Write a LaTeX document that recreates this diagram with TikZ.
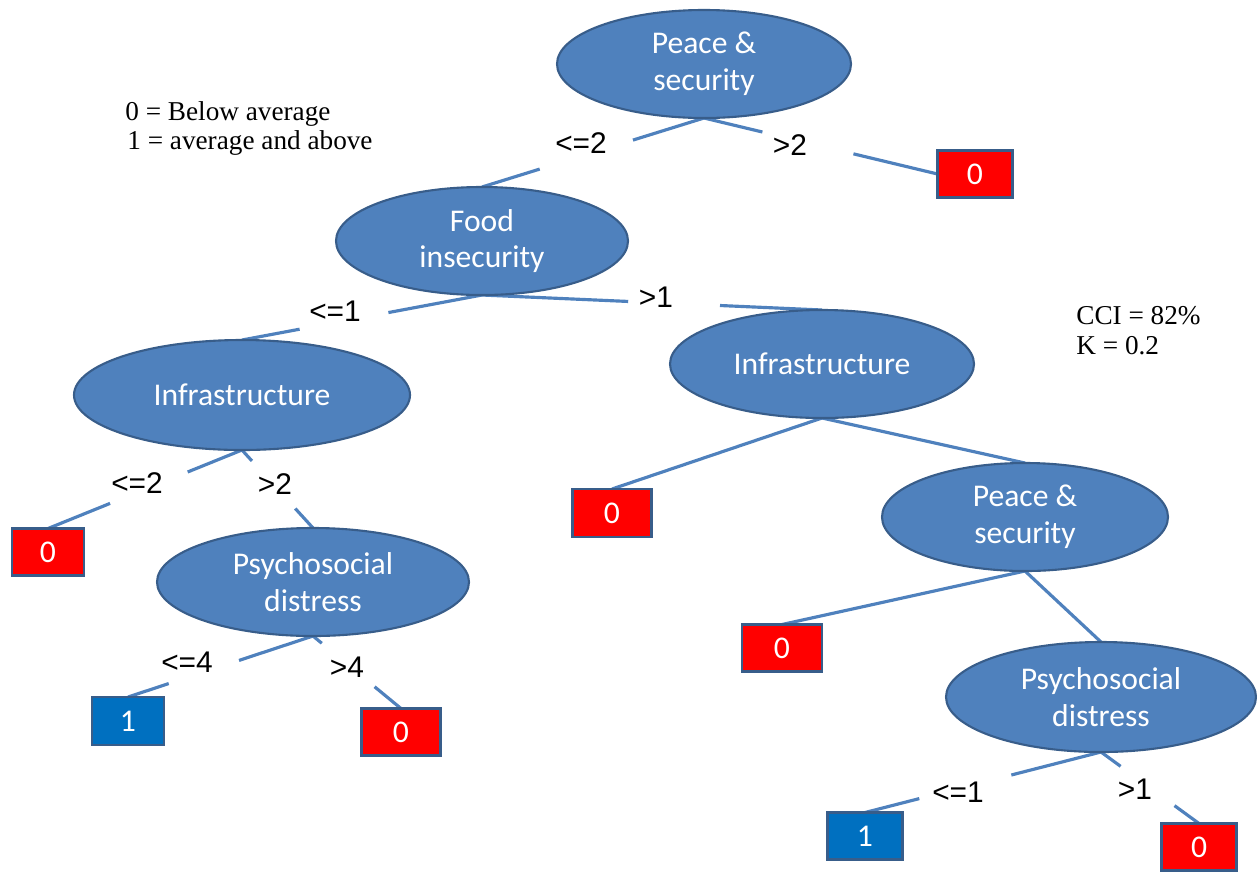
\documentclass[tikz,border=0pt]{standalone}
\usepackage{fontspec}
\setmainfont{Liberation Serif}
\newfontfamily\calibrifont{Carlito}
\newfontfamily\arialfont{Liberation Sans}
\usetikzlibrary{shapes.geometric,calc}
\pgfdeclarelayer{bg}
\pgfsetlayers{bg,main}
\definecolor{nodefill}{HTML}{4F81BD}
\definecolor{nodeedge}{HTML}{385D8A}
\definecolor{leafred}{HTML}{FF0000}
\definecolor{leafblue}{HTML}{0070C0}
\begin{document}
\begin{tikzpicture}[x=0.02cm,y=-0.02cm,
  decision/.style 2 args={ellipse, draw=nodeedge, line width=1.2pt, fill=nodefill,
    text=white, font=\calibrifont\fontsize{18}{20.8}\selectfont, align=center,
    inner sep=0pt, outer sep=0pt, minimum width=#1*0.02cm, minimum height=#2*0.02cm},
  leaf/.style 2 args={rectangle, draw=nodeedge, line width=1.2pt, text=white,
    font=\calibrifont\fontsize{18}{20}\selectfont, inner sep=0pt, outer sep=0pt,
    minimum width=#1*0.02cm, minimum height=#2*0.02cm},
  redleaf/.style={fill=leafred},
  blueleaf/.style={fill=leafblue},
  conn/.style={draw=nodefill, line width=1.8pt},
  lab/.style={font=\arialfont\fontsize{17}{19}\selectfont, inner sep=0pt},
  note/.style={font=\fontsize{15.5}{17}\selectfont, inner sep=0pt, anchor=base west}
]
\useasboundingbox (0,0) rectangle (1257,873);

% decision nodes
\node[decision={294}{108}] (root)   at (704,64)  {Peace \&\\security};
\node[decision={292}{108}] (food)   at (482,241) {Food\\insecurity};
\node[decision={336}{110}] (infL)   at (242,395) {Infrastructure};
\node[decision={304}{108}] (infR)   at (822,364) {Infrastructure};
\node[decision={286}{108}] (peaceR) at (1025,517) {Peace \&\\security};
\node[decision={312}{108}] (psyL)   at (313,582) {Psychosocial\\distress};
\node[decision={310}{110}] (psyR)   at (1101,697) {Psychosocial\\distress};

% leaves
\node[leaf={75}{47}, redleaf]  (b1) at (975,174) {0};
\node[leaf={72}{47}, redleaf]  (b2) at (48,552)  {0};
\node[leaf={72}{48}, blueleaf] (b3) at (128,721) {1};
\node[leaf={79}{47}, redleaf]  (b4) at (401,732) {0};
\node[leaf={79}{48}, redleaf]  (b5) at (612,513) {0};
\node[leaf={80}{47}, redleaf]  (b6) at (782,648) {0};
\node[leaf={75}{47}, blueleaf] (b7) at (865,836) {1};
\node[leaf={75}{47}, redleaf]  (b8) at (1199,847) {0};

% branch labels
\node[lab] (l1)  at (581,143) {<=2};
\node[lab] (l2)  at (790,145) {>2};
\node[lab] (l3)  at (335,311) {<=1};
\node[lab] (l4)  at (656,297) {>1};
\node[lab] (l5)  at (137,483) {<=2};
\node[lab] (l6)  at (275,484) {>2};
\node[lab] (l7)  at (187,662) {<=4};
\node[lab] (l8)  at (347,667) {>4};
\node[lab] (l9)  at (958,792) {<=1};
\node[lab] (l10) at (1135,789) {>1};

% notes
\node[note] (leg1) at (125,120) {0 = Below average};
\node[note] (leg2) at (127,149) {1 = average and above};
\node[note] (cci1) at (1076,324) {CCI = 82\%};
\node[note] (cci2) at (1076,354) {K = 0.2};

\begin{pgfonlayer}{bg}
\draw[conn] (root.south) -- ($(root.south)!0.32!(food.north)$)
            ($(root.south)!0.74!(food.north)$) -- (food.north);
\draw[conn] (root.south) -- ($(root.south)!0.25!(b1.west)$)
            ($(root.south)!0.64!(b1.west)$) -- (b1.west);
\draw[conn] (food.south) -- ($(food.south)!0.39!(infL.north)$)
            ($(food.south)!0.76!(infL.north)$) -- (infL.north);
\draw[conn] (food.south) -- ($(food.south)!0.43!(infR.north)$)
            ($(food.south)!0.70!(infR.north)$) -- (infR.north);
\draw[conn] (infL.south) -- ($(infL.south)!0.28!(b2.north)$)
            ($(infL.south)!0.68!(b2.north)$) -- (b2.north);
\draw[conn] (infL.south) -- ($(infL.south)!0.14!(psyL.north)$)
            ($(infL.south)!0.75!(psyL.north)$) -- (psyL.north);
\draw[conn] (psyL.south) -- ($(psyL.south)!0.40!(b3.north)$)
            ($(psyL.south)!0.78!(b3.north)$) -- (b3.north);
\draw[conn] (psyL.south) -- ($(psyL.south)!0.10!(b4.north)$)
            ($(psyL.south)!0.70!(b4.north)$) -- (b4.north);
\draw[conn] (infR.south) -- (b5.north);
\draw[conn] (infR.south) -- (peaceR.north);
\draw[conn] (peaceR.south) -- (b6.north);
\draw[conn] (peaceR.south) -- (psyR.north);
\draw[conn] (psyR.south) -- ($(psyR.south)!0.38!(b7.north)$)
            ($(psyR.south)!0.77!(b7.north)$) -- (b7.north);
\draw[conn] (psyR.south) -- ($(psyR.south)!0.20!(b8.north)$)
            ($(psyR.south)!0.75!(b8.north)$) -- (b8.north);
\end{pgfonlayer}
\end{tikzpicture}
\end{document}
